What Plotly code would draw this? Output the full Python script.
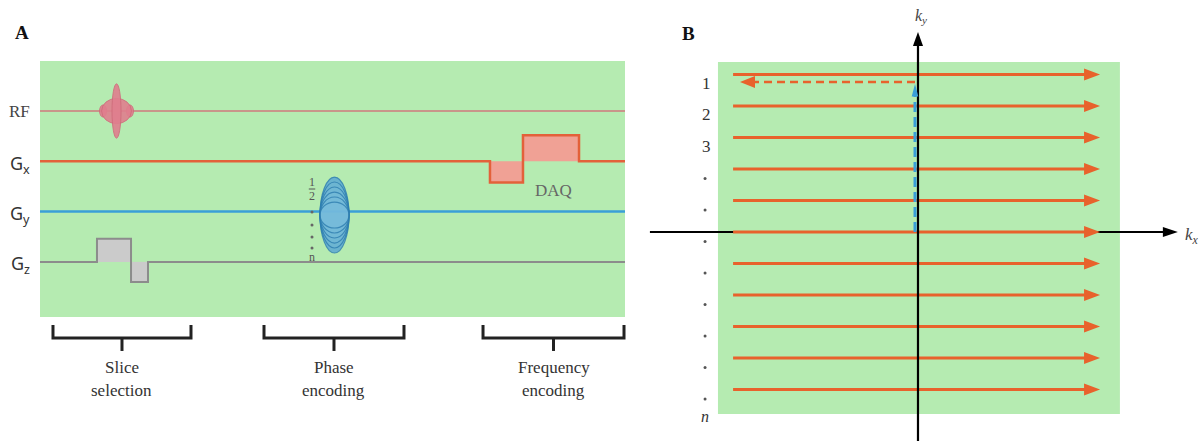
import plotly.graph_objects as go

# ---------------- Panel A data: pulse-sequence timing (arbitrary time units 0..100) ----------------
channel_names = ["RF", "G<sub>x</sub>", "G<sub>y</sub>", "G<sub>z</sub>"]
channel_index = [0, 1, 2, 3]          # baseline of each channel (0 = top)
seq_t = [0, 100]
rf_t = 13.08                           # RF pulse centre
gz_edges = [9.74, 15.56, 18.46]        # slice-select lobe edges
gz_amp = [0.46, -0.40]
gx_edges = [76.92, 82.56, 92.14]       # read-out lobe edges
gx_amp = [-0.42, 0.52]
gy_t = 50.34                           # phase-encode centre
gy_steps = [0.755, 0.656, 0.557, 0.457, 0.358, 0.258]   # phase-encode step amplitudes
stage_names = [["Slice", "selection"], ["Phase", "encoding"], ["Frequency", "encoding"]]
stage_spans = [[2.22, 25.81], [38.29, 62.22], [75.73, 99.83]]

# ---------------- Panel B data: k-space trajectory ----------------
ky_rows = [5, 4, 3, 2, 1, 0, -1, -2, -3, -4, -5]
row_labels = ["1", "2", "3", ".", ".", ".", ".", ".", ".", ".", "."]
kx_line = [-5.87, 5.78]

# ---------------- styles ----------------
GREEN = "#b5ebb1"
ORANGE = "#e8622c"
BLUE = "#3a9fd8"
SERIF = "Liberation Serif"

fig = go.Figure()
A = dict(xaxis="x", yaxis="y")
B = dict(xaxis="x2", yaxis="y2")


def line(xs, ys, color, width, ax, dash="solid"):
    fig.add_trace(go.Scatter(x=xs, y=ys, mode="lines",
                             line=dict(color=color, width=width, dash=dash),
                             hoverinfo="skip", showlegend=False, **ax))


def poly(xs, ys, fill, ax, lc=None, lw=0):
    fig.add_trace(go.Scatter(x=xs, y=ys, mode="lines", fill="toself", fillcolor=fill,
                             line=dict(color=lc or fill, width=lw),
                             hoverinfo="skip", showlegend=False, **ax))


shapes = []
annotations = []


def text(x, y, s, ax, size=16, color="#333", family=SERIF, xanchor="center", style="normal", weight="normal"):
    annotations.append(dict(x=x, y=y, xref=ax["xaxis"], yref=ax["yaxis"], text=s,
                            showarrow=False, xanchor=xanchor, yanchor="middle",
                            font=dict(size=size, color=color, family=family, style=style, weight=weight)))


# =================== Panel A ===================
shapes.append(dict(type="rect", xref="x", yref="y", x0=seq_t[0], x1=seq_t[1],
                   y0=-4.095, y1=0.994, fillcolor=GREEN, line=dict(width=0), layer="below"))

# RF
yb = -channel_index[0]
line(seq_t, [yb, yb], "#c9958a", 2, A)
rf_parts = [(2.55, 0.25), (0.77, 0.54)]   # (half width in t, half height in y)
for sgn in (-1, 1):
    shapes.append(dict(type="circle", xref="x", yref="y",
                       x0=rf_t + sgn * 1.7 - 0.6 * (1 - sgn), x1=rf_t + sgn * 1.7 + 0.6 * (1 + sgn),
                       y0=yb - 0.12, y1=yb + 0.12, fillcolor="#e07f8e",
                       line=dict(color="#d06c7c", width=1), opacity=0.9))
for hw, hh in rf_parts:
    shapes.append(dict(type="circle", xref="x", yref="y", x0=rf_t - hw, x1=rf_t + hw,
                       y0=yb - hh, y1=yb + hh, fillcolor="#e07f8e",
                       line=dict(color="#d06c7c", width=1), opacity=0.9))

# Gx
yb = -channel_index[1]
e = gx_edges
for i in range(2):
    poly([e[i], e[i], e[i + 1], e[i + 1]], [yb, yb + gx_amp[i], yb + gx_amp[i], yb], "#f0a195", A)
line([seq_t[0], e[0], e[0], e[1], e[1], e[2], e[2], seq_t[1]],
     [yb, yb, yb + gx_amp[0], yb + gx_amp[0], yb + gx_amp[1], yb + gx_amp[1], yb, yb], "#e3613a", 2.5, A)
text((e[1] + e[2]) / 2 + 0.5, -1.571, "DAQ", A, size=17, color="#666")

# Gy
yb = -channel_index[2]
line(seq_t, [yb, yb], BLUE, 2.5, A)
yc = -2.068
for k, h in enumerate(gy_steps):
    shapes.append(dict(type="circle", xref="x", yref="y", x0=gy_t - 2.48, x1=gy_t + 2.48,
                       y0=yc - h, y1=yc + h,
                       fillcolor="rgba(95,170,210,0.88)" if k == 0 else "rgba(130,195,225,0.18)",
                       line=dict(color="rgba(45,125,175,0.8)", width=1.2)))
px_t = 46.5
text(px_t, -1.412, "1", A, size=12, color="#555")
text(px_t, -1.690, "2", A, size=12, color="#555")
line([px_t - 0.55, px_t + 0.55], [-1.551, -1.551], "#555", 1, A)
fig.add_trace(go.Scatter(x=[px_t] * 4, y=[-2.008, -2.266, -2.505, -2.724], mode="markers",
                         marker=dict(size=3, color="#666"), hoverinfo="skip", showlegend=False, **A))
text(px_t, -2.903, "n", A, size=12, color="#555")

# Gz
yb = -channel_index[3]
e = gz_edges
for i in range(2):
    poly([e[i], e[i], e[i + 1], e[i + 1]], [yb, yb + gz_amp[i], yb + gz_amp[i], yb], "#cbcbcb", A)
line([seq_t[0], e[0], e[0], e[1], e[1], e[2], e[2], seq_t[1]],
     [yb, yb, yb + gz_amp[0], yb + gz_amp[0], yb + gz_amp[1], yb + gz_amp[1], yb, yb], "#8c8c8c", 2, A)

# channel labels
for name, idx in zip(channel_names, channel_index):
    if idx == 0:
        text(-1.37, -idx, name, A, size=17, color="#444", family=SERIF, xanchor="right")
    else:
        text(-1.37, -idx - 0.06, name, A, size=18, color="#333", family="Noto Sans", xanchor="right")

# brackets
bx, by = [], []
for a, b in stage_spans:
    c = (a + b) / 2
    bx += [a, a, b, b, None, c, c, None]
    by += [-4.254, -4.513, -4.513, -4.254, None, -4.513, -4.771, None]
line(bx, by, "#222", 3, A)
for (a, b), (l1, l2) in zip(stage_spans, stage_names):
    c = (a + b) / 2
    text(c, -5.109, l1, A, size=17, color="#333")
    text(c, -5.547, l2, A, size=17, color="#333")

text(-3.08, 1.551, "A", A, size=19, color="#111", weight="bold")

# =================== Panel B ===================
shapes.append(dict(type="rect", xref="x2", yref="y2", x0=-6.35, x1=6.41, y0=-5.78, y1=5.40,
                   fillcolor=GREEN, line=dict(width=0), layer="below"))

# kx axis (black)
line([-8.51, 8.25 - 0.47], [0, 0], "#000", 2.2, B)
poly([8.25, 8.25 - 0.476, 8.25 - 0.476, 8.25], [0, 0.16, -0.16, 0], "#000", B)

# orange read-out lines
head_L, head_H = 0.508, 0.19
for ky in ky_rows:
    line([kx_line[0], kx_line[1] - head_L + 0.05], [ky, ky], ORANGE, 3, B)
tx, ty = [], []
for ky in ky_rows:
    tip = kx_line[1]
    tx += [tip, tip - head_L, tip - head_L, tip, None]
    ty += [ky, ky + head_H, ky - head_H, ky, None]
poly(tx, ty, ORANGE, B)

# ky axis (black)
line([0, 0], [-6.7, 6.35 - 0.42], "#000", 2.2, B)
poly([0, 0.16, -0.16, 0], [6.35, 6.35 - 0.444, 6.35 - 0.444, 6.35], "#000", B)

# blue dashed phase-encode move
line([-0.095, -0.095], [0, 4.32], BLUE, 3, B, dash="10px,5px")
poly([-0.095, -0.2, 0.01, -0.095], [4.70, 4.30, 4.30, 4.70], BLUE, B)

# orange dashed return to row 1
ytop = 4.76
line([-0.095, -5.65 + 0.45], [ytop, ytop], ORANGE, 2.5, B, dash="8px,5px")
poly([-5.65, -5.65 + 0.476, -5.65 + 0.476, -5.65], [ytop, ytop + 0.19, ytop - 0.19, ytop], ORANGE, B)

# row labels
dot_y = []
for ky, lab in zip(ky_rows, row_labels):
    if lab == ".":
        dot_y.append(ky - 0.30)
    else:
        text(-6.70, ky - 0.28, lab, B, size=17, color="#333")
fig.add_trace(go.Scatter(x=[-6.76] * len(dot_y), y=dot_y, mode="markers",
                         marker=dict(size=3, color="#555"), hoverinfo="skip", showlegend=False, **B))
text(-6.76, -5.87, "n", B, size=16, color="#333", style="italic")

text(0.1, 6.83, "k<sub>y</sub>", B, size=16, color="#444", style="italic")
text(8.42, -0.127, "k<sub>x</sub>", B, size=17, color="#444", xanchor="left", style="italic")
text(-7.30, 6.317, "B", B, size=19, color="#111", weight="bold")

fig.update_layout(
    width=1202, height=441, autosize=False,
    margin=dict(l=0, r=0, t=0, b=0, pad=0),
    paper_bgcolor="white", plot_bgcolor="white",
    shapes=shapes, annotations=annotations,
    xaxis=dict(domain=[0, 640 / 1202], range=[-6.838, 102.564], visible=False, fixedrange=True),
    yaxis=dict(domain=[0, 1], range=[-6.561, 2.207], visible=False, fixedrange=True),
    xaxis2=dict(domain=[640 / 1202, 1], range=[-8.825, 9.016], visible=False, anchor="y2", fixedrange=True),
    yaxis2=dict(domain=[0, 1], range=[-6.635, 7.365], visible=False, anchor="x2", fixedrange=True),
)

fig.write_html("out.html", config={"displayModeBar": False},
               post_script="document.body.style.margin='0';")
